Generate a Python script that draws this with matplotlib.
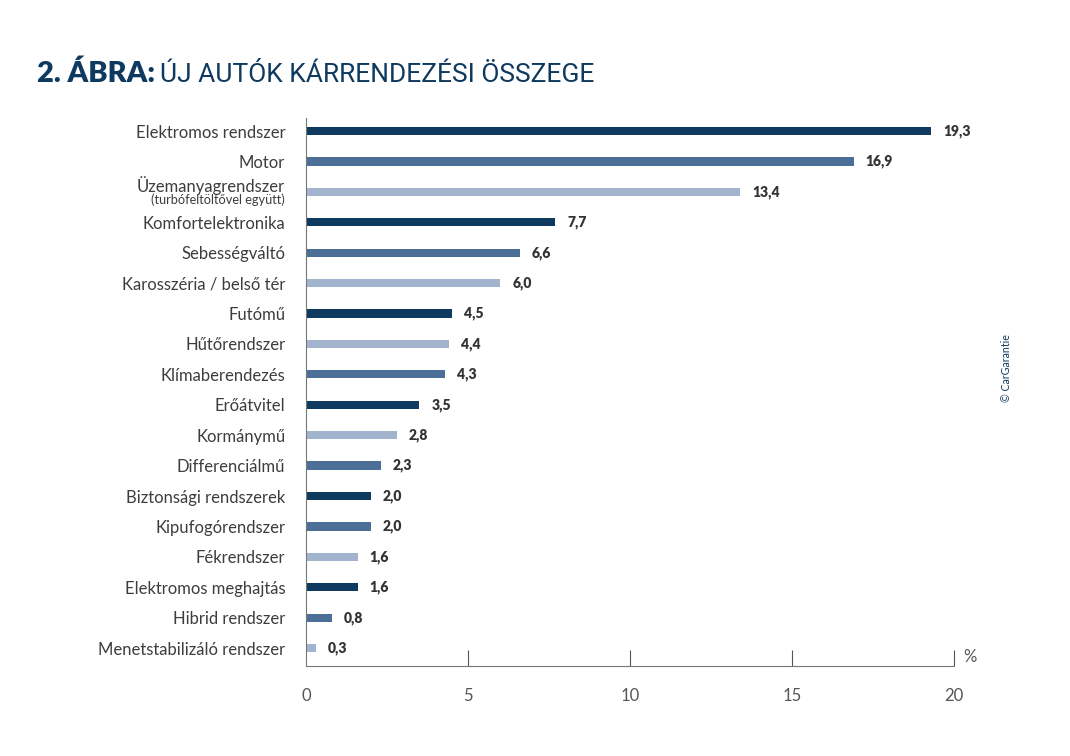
import matplotlib.pyplot as plt
import numpy as np

categories = [
    "Elektromos rendszer", "Motor", "Üzemanyagrendszer", "Komfortelektronika",
    "Sebességváltó", "Karosszéria / belső tér", "Futómű", "Hűtőrendszer",
    "Klímaberendezés", "Erőátvitel", "Kormánymű", "Differenciálmű",
    "Biztonsági rendszerek", "Kipufogórendszer", "Fékrendszer",
    "Elektromos meghajtás", "Hibrid rendszer", "Menetstabilizáló rendszer",
]
values = [19.3, 16.9, 13.4, 7.7, 6.6, 6.0, 4.5, 4.4, 4.3, 3.5, 2.8, 2.3,
          2.0, 2.0, 1.6, 1.6, 0.8, 0.3]
shade = ["d", "m", "l", "d", "m", "l", "d", "l", "m", "d", "l", "m",
         "d", "m", "l", "d", "m", "l"]
xticks = [0, 5, 10, 15, 20]

palette = {"d": "#0f3a5f", "m": "#4b6f96", "l": "#a2b3cd"}
navy = "#0f3a5f"
txt = "#3d3d3d"

plt.rcParams['font.family'] = ['Lato', 'DejaVu Sans']

fig = plt.figure(figsize=(10.7, 7.56), dpi=100)
ax = fig.add_axes([306 / 1070, 90 / 756, 648 / 1070, 548 / 756])

y = np.arange(len(categories))
ax.barh(y, values, height=0.27, color=[palette[s] for s in shade])

for yi, v in zip(y, values):
    ax.text(v + 0.37, yi, f"{v:.1f}".replace(".", ","), va="center", ha="left",
            fontsize=10, fontweight="heavy", color="#333333")

ax.set_xlim(0, 20)
ax.set_ylim(17.59, -0.43)
ax.set_yticks(y)
labels = list(categories)
labels[2] = ""
ax.set_yticklabels(labels, fontsize=12, color=txt)
ax.tick_params(axis="y", length=0, pad=15)

# two-line label for the fuel system row
ax.text(-0.65, 2 - 0.22, categories[2], ha="right", va="center",
        fontsize=12, color=txt)
ax.text(-0.65, 2 + 0.27, "(turbófeltöltővel együtt)", ha="right", va="center",
        fontsize=9.2, color=txt)

ax.set_xticks(xticks)
ax.set_xticklabels([str(t) for t in xticks], fontsize=12, color="#555555")
ax.tick_params(axis="x", direction="in", length=11.5, width=0.8,
               color="#555555", pad=16)
ax.xaxis.get_major_ticks()[0].tick1line.set_visible(False)

for s in ["top", "right"]:
    ax.spines[s].set_visible(False)
ax.spines["left"].set_color("#777777")
ax.spines["bottom"].set_color("#777777")
ax.spines["left"].set_linewidth(0.8)
ax.spines["bottom"].set_linewidth(0.8)

ax.text(20.3, 17.3, "%", fontsize=12, color="#555555", ha="left",
        va="center")

# title
t1 = fig.text(37 / 1070, 1 - 82 / 756, "2. ÁBRA:", fontsize=21,
              fontweight="heavy", color=navy, va="baseline", ha="left")
fig.canvas.draw()
bb = t1.get_window_extent(renderer=fig.canvas.get_renderer())
fig.text(bb.x1 / 1070 + 5 / 1070, 1 - 82 / 756, "ÚJ AUTÓK KÁRRENDEZÉSI ÖSSZEGE",
         fontsize=19, color=navy, va="baseline", ha="left",
         family=['Roboto', 'DejaVu Sans'])

fig.text(1007 / 1070, 1 - 368 / 756, "© CarGarantie", rotation=90,
         fontsize=7.7, color=navy, ha="center", va="center")

fig.savefig("out.png", dpi=100)
